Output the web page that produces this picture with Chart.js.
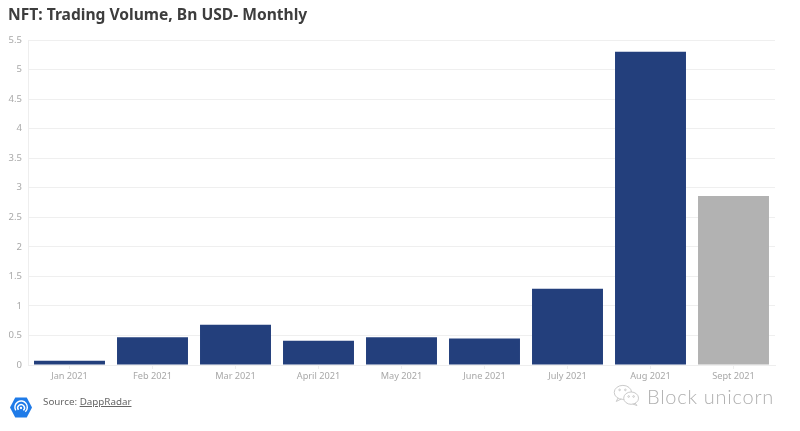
<!DOCTYPE html>
<html lang="en">
<head>
<meta charset="UTF-8">
<title>NFT Trading Volume</title>
<script src="https://cdn.jsdelivr.net/npm/chart.js@4/dist/chart.umd.min.js"></script>
<style>
  html, body { margin: 0; padding: 0; background: #fff; }
  body { width: 800px; height: 431px; position: relative; overflow: hidden; font-family: "Noto Sans", sans-serif; }
  #wrap { position: absolute; left: 0; top: 0; width: 800px; height: 431px; }
  h1 { position: absolute; left: 8px; top: 3px; margin: 0; font-size: 15.6px; line-height: 22px; font-weight: 700; color: #3d3d3d; white-space: nowrap; }
  #source { position: absolute; left: 43px; top: 394px; font-size: 9.8px; line-height: 16px; color: #666; }
  #source u { color: #666; }
  #logo { position: absolute; left: 9px; top: 396px; }
  #mark { position: absolute; left: 613px; top: 384px; }
  #markText { position: absolute; left: 647px; top: 382px; font-size: 20px; line-height: 28px; font-weight: 300; font-family: "Lato", sans-serif; color: #b0b0b0; letter-spacing: 0.75px; white-space: nowrap; }
</style>
</head>
<body>
<div id="wrap"><canvas id="myChart" width="800" height="431"></canvas></div>
<h1>NFT: Trading Volume, Bn USD- Monthly</h1>
<svg id="logo" width="24" height="23" viewBox="0 0 24 24">
  <polygon points="6,1.5 18,1.5 23.5,12 18,22.5 6,22.5 0.5,12" fill="#1f7be8"/>
  <path d="M6.5 15 A6.5 6.5 0 1 1 16.5 16.5" fill="none" stroke="#fff" stroke-width="1.5"/>
  <path d="M9.3 14.5 A3.5 3.5 0 1 1 14.5 15" fill="none" stroke="#fff" stroke-width="1.5"/>
  <circle cx="12" cy="12.5" r="1.2" fill="#fff"/>
</svg>
<div id="source">Source: <u>DappRadar</u></div>
<svg id="mark" width="28" height="25" viewBox="0 0 34 30" fill="none" stroke="#c4c4c4" stroke-width="1.1">
  <ellipse cx="12" cy="10" rx="10.5" ry="8.5" fill="#fff"/>
  <path d="M6 17 L4 21 L10 18"/>
  <ellipse cx="22" cy="17" rx="9" ry="7.5" fill="#fff"/>
  <path d="M27 23 L29 26 L24 24"/>
  <circle cx="8" cy="7" r="1"/><circle cx="15" cy="7" r="1"/>
  <circle cx="19" cy="15" r="1"/><circle cx="25" cy="15" r="1"/>
</svg>
<div id="markText">Block unicorn</div>
<script>
const categories = ["Jan 2021", "Feb 2021", "Mar 2021", "April 2021", "May 2021", "June 2021", "July 2021", "Aug 2021", "Sept 2021"];
const volumes = [0.07, 0.47, 0.68, 0.41, 0.47, 0.45, 1.29, 5.3, 2.86];
const barColors = ["#233f7c", "#233f7c", "#233f7c", "#233f7c", "#233f7c", "#233f7c", "#233f7c", "#233f7c", "#b2b2b2"];

const ctx = document.getElementById("myChart").getContext("2d");
new Chart(ctx, {
  type: "bar",
  data: {
    labels: categories,
    datasets: [{
      data: volumes,
      backgroundColor: barColors,
      barPercentage: 0.855,
      categoryPercentage: 1
    }]
  },
  options: {
    responsive: false,
    animation: false,
    layout: { padding: { top: 40, right: 25, bottom: 36, left: 0 } },
    plugins: { legend: { display: false }, title: { display: false }, tooltip: { enabled: false } },
    scales: {
      x: {
        afterFit: (s) => { s.height = 30; },
        grid: { offset: false, drawOnChartArea: false, color: "#eeeeee", tickLength: 4 },
        border: { color: "#eeeeee" },
        ticks: { color: "#a8a8a8", font: { family: "Noto Sans", size: 9.2 }, maxRotation: 0, autoSkip: false, padding: 2 }
      },
      y: {
        min: 0,
        max: 5.5,
        afterFit: (s) => { s.width = 28; },
        grid: { color: "#efefef", drawTicks: false },
        border: { color: "#eeeeee" },
        ticks: { stepSize: 0.5, color: "#a8a8a8", font: { family: "Noto Sans", size: 9.5 }, padding: 6, callback: (v) => String(v) }
      }
    }
  }
});
</script>
</body>
</html>
